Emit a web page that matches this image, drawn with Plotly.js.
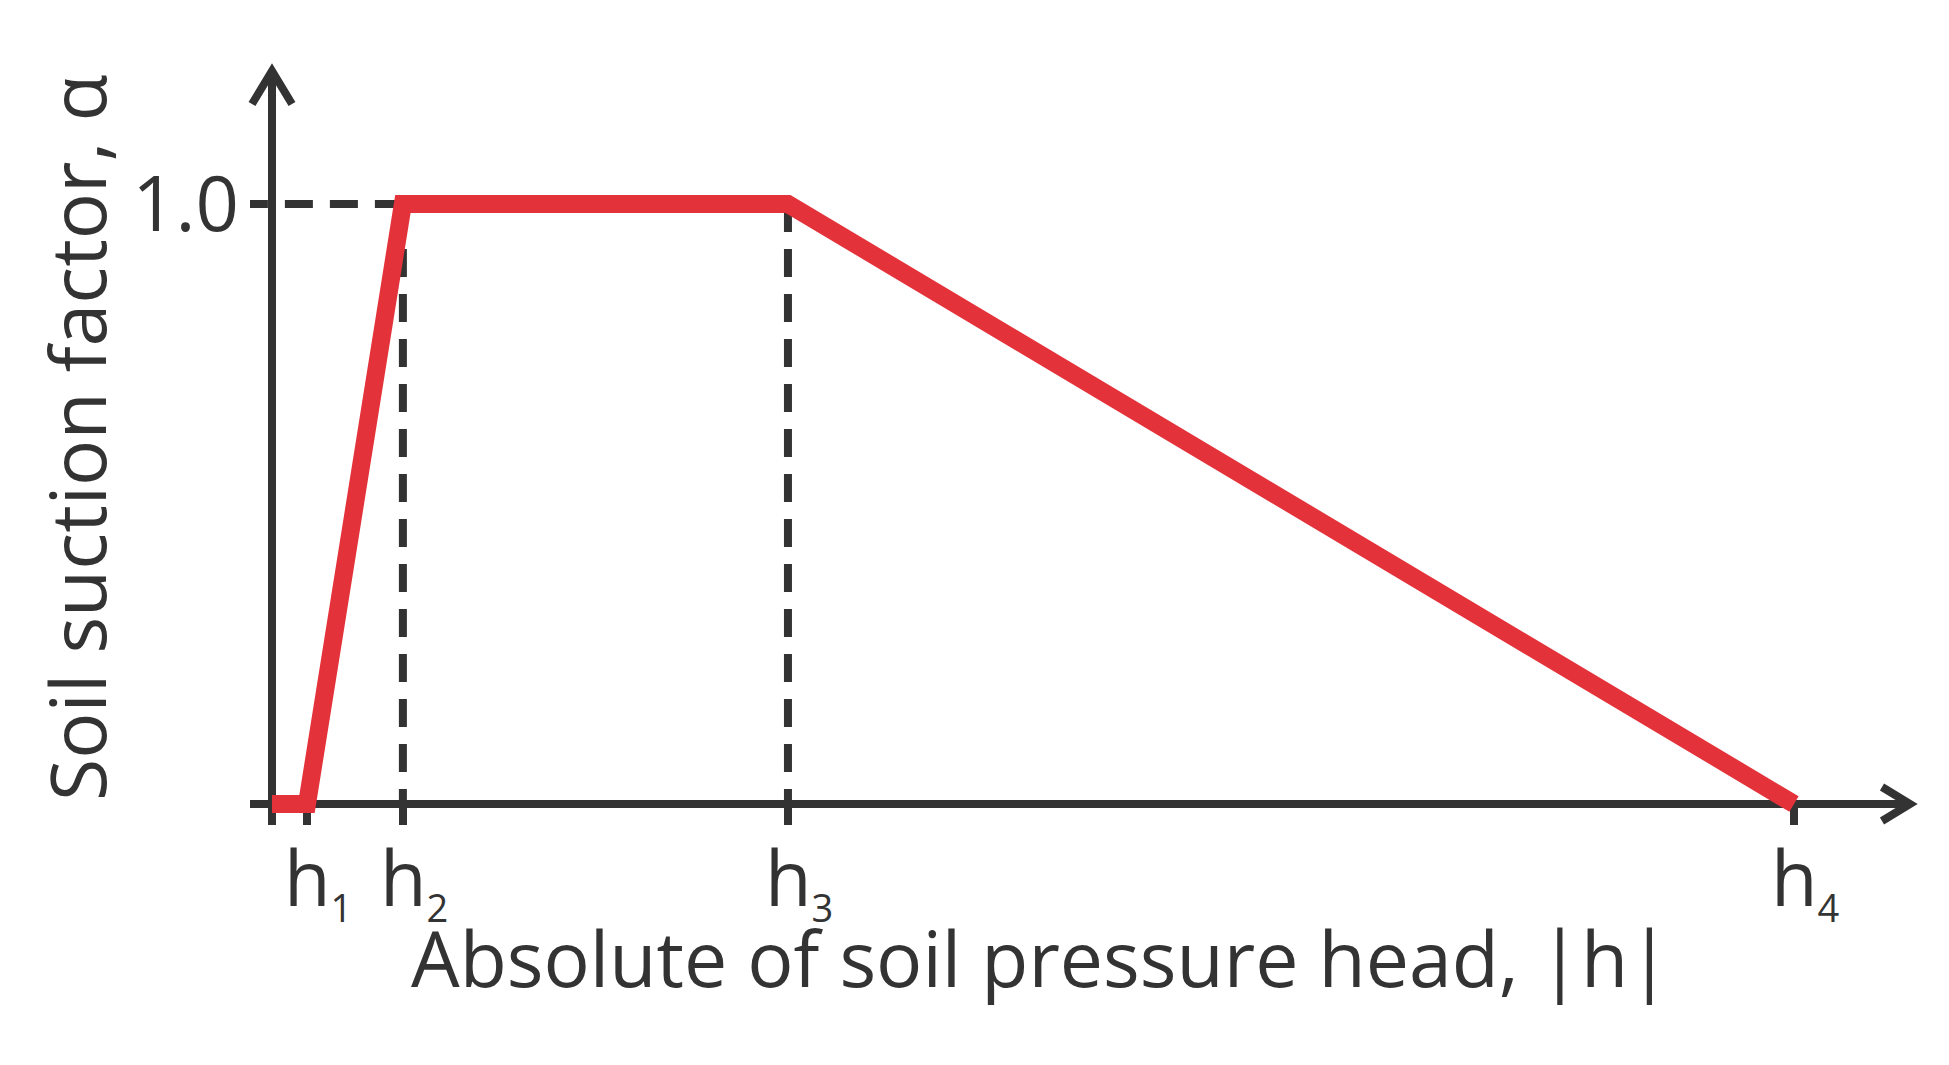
<!DOCTYPE html>
<html>
<head>
<meta charset="utf-8">
<script src="https://cdn.plot.ly/plotly-3.0.1.min.js"></script>
<style>
  html, body { margin: 0; padding: 0; background: #ffffff; }
  #chart { width: 1949px; height: 1065px; }
</style>
</head>
<body>
<div id="chart"></div>
<script>
// --- data (head in arbitrary units, h4 = 10) ---
const hValues = [0.23, 0.86, 3.39, 10];
const hSubs = ['1', '2', '3', '4'];
const headValues = [0, 0.23, 0.86, 3.39, 10];
const alphaValues = [0, 0, 1, 1, 0];
const alphaTickVals = [1];
const alphaTickText = ['1.0'];

// --- geometry of the frame (pixels) ---
const W = 1949, H = 1065;
const plotL = 240, plotR = 1935, plotT = 45, plotB = 825;
const originX = 272, originY = 804;
const pxPerX = 152.2, pxPerY = 600;

const toX = px => (px - originX) / pxPerX;
const toY = py => (originY - py) / pxPerY;

const ink = '#333333';
const red = '#e4323a';
const fontFam = '"Open Sans", "Noto Sans", sans-serif';
const axisW = 8;

// axis ends and arrow heads
const xStart = toX(250), xTip = toX(1910);
const yBottom = toY(825), yTip = toY(71);
const armX = 28 / pxPerX, armY = 17 / pxPerY;   // right arrow
const armX2 = 20 / pxPerX, armY2 = 33 / pxPerY; // up arrow

const shapes = [
    // y axis
    { type: 'line', xref: 'x', yref: 'y', x0: 0, x1: 0, y0: yBottom, y1: yTip,
      line: { color: ink, width: axisW }, layer: 'below' },
    { type: 'path', xref: 'x', yref: 'y',
      path: `M ${-armX2},${yTip - armY2} L 0,${yTip} L ${armX2},${yTip - armY2}`,
      line: { color: ink, width: axisW }, layer: 'below' },
    // x axis
    { type: 'line', xref: 'x', yref: 'y', x0: xStart, x1: xTip, y0: 0, y1: 0,
      line: { color: ink, width: axisW }, layer: 'below' },
    { type: 'path', xref: 'x', yref: 'y',
      path: `M ${xTip - armX},${armY} L ${xTip},0 L ${xTip - armX},${-armY}`,
      line: { color: ink, width: axisW }, layer: 'below' },
    // dashed guides
    { type: 'line', xref: 'x', yref: 'y', x0: hValues[1], x1: xStart, y0: 1, y1: 1,
      line: { color: ink, width: axisW, dash: '28px,17px' }, layer: 'below' },
    { type: 'line', xref: 'x', yref: 'y', x0: hValues[1], x1: hValues[1], y0: 1, y1: 0,
      line: { color: ink, width: axisW, dash: '28px,17px' }, layer: 'below' },
    { type: 'line', xref: 'x', yref: 'y', x0: hValues[2], x1: hValues[2], y0: 1, y1: 0,
      line: { color: ink, width: axisW, dash: '28px,17px' }, layer: 'below' }
];

const trace = {
    x: headValues,
    y: alphaValues,
    type: 'scatter',
    mode: 'lines',
    line: { color: red, width: 18 },
    hoverinfo: 'skip',
    showlegend: false
};

const plotW = plotR - plotL, plotH = plotB - plotT;

// h labels: the "h" sits centred on its tick, the subscript hangs to the right
const hLabelNotes = hValues.map((v, i) => ({
    text: 'h<sub><span style="font-size:38px">' + hSubs[i] + '</span></sub>',
    xref: 'x', yref: 'paper',
    x: v, y: (plotB - 879) / plotH,
    xanchor: 'left', yanchor: 'middle',
    xshift: -25,
    showarrow: false,
    font: { family: fontFam, size: 76, color: ink }
}));

const layout = {
    width: W,
    height: H,
    autosize: false,
    paper_bgcolor: '#ffffff',
    plot_bgcolor: '#ffffff',
    margin: { l: plotL, r: W - plotR, t: plotT, b: H - plotB, pad: 0 },
    font: { family: fontFam, color: ink, size: 77 },
    showlegend: false,
    xaxis: {
        range: [toX(plotL), toX(plotR)],
        showgrid: false, zeroline: false, showline: false,
        tickvals: hValues,
        showticklabels: false,
        ticks: 'inside', ticklen: 21, tickwidth: axisW, tickcolor: ink,
        layer: 'below traces',
        fixedrange: true
    },
    yaxis: {
        range: [toY(plotB), toY(plotT)],
        showgrid: false, zeroline: false, showline: false,
        tickvals: alphaTickVals, ticktext: alphaTickText,
        ticks: '',
        tickfont: { family: fontFam, size: 76, color: ink },
        fixedrange: true
    },
    shapes: shapes,
    annotations: hLabelNotes.concat([
        {
            text: 'Absolute of soil pressure head, |h|',
            xref: 'paper', yref: 'paper',
            x: (1041 - plotL) / plotW, y: (plotB - 957) / plotH,
            xanchor: 'center', yanchor: 'middle',
            showarrow: false,
            font: { family: fontFam, size: 77, color: ink }
        },
        {
            text: 'Soil suction factor, α',
            xref: 'paper', yref: 'paper',
            x: (76 - plotL) / plotW, y: (plotB - 438) / plotH,
            xanchor: 'center', yanchor: 'middle',
            textangle: -90,
            showarrow: false,
            font: { family: fontFam, size: 77, color: ink }
        }
    ])
};

Plotly.newPlot('chart', [trace], layout, { displayModeBar: false, staticPlot: true });
</script>
</body>
</html>
